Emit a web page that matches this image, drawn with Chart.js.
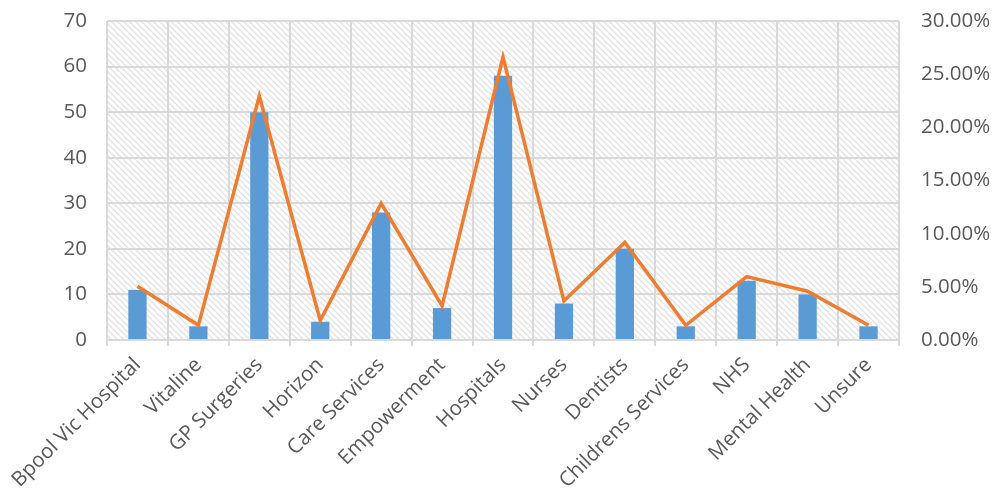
<!DOCTYPE html>
<html>
<head>
<meta charset="utf-8">
<script src="https://cdn.jsdelivr.net/npm/chart.js@4/dist/chart.umd.min.js"></script>
<style>
  html, body { margin: 0; padding: 0; background: #ffffff; }
  #wrap { width: 1003px; height: 491px; }
</style>
</head>
<body>
<div id="wrap"><canvas id="c" width="1003" height="491"></canvas></div>
<script>
// Service categories mentioned
const categories = [
  'Bpool Vic Hospital', 'Vitaline', 'GP Surgeries', 'Horizon', 'Care Services',
  'Empowerment', 'Hospitals', 'Nurses', 'Dentists', 'Childrens Services',
  'NHS', 'Mental Health', 'Unsure'
];
// Number of mentions (left axis)
const counts = [11, 3, 50, 4, 28, 7, 58, 8, 20, 3, 13, 10, 3];
// Share of all mentions, in percent (right axis)
const shares = [5.05, 1.38, 22.94, 1.83, 12.84, 3.21, 26.61, 3.67, 9.17, 1.38, 5.96, 4.59, 1.38];

const FONT = "'Open Sans', 'DejaVu Sans', sans-serif";
const TEXT = '#595959';
const GRID = '#d9d9d9';
const FSIZE = 20.5;

// Diagonal hatch tile for the plot background
function makeHatch(ctx) {
  const s = 6;
  const t = document.createElement('canvas');
  t.width = s; t.height = s;
  const g = t.getContext('2d');
  g.fillStyle = '#ffffff';
  g.fillRect(0, 0, s, s);
  g.strokeStyle = '#e3e3e3';
  g.lineWidth = 1.4;
  g.beginPath();
  g.moveTo(-1, -1); g.lineTo(s + 1, s + 1);
  g.moveTo(-1, s - 1); g.lineTo(1, s + 1);
  g.moveTo(s - 1, -1); g.lineTo(s + 1, 1);
  g.stroke();
  return ctx.createPattern(t, 'repeat');
}

const hatchBackground = {
  id: 'hatchBackground',
  beforeDraw(chart) {
    const { ctx, chartArea: a } = chart;
    ctx.save();
    ctx.fillStyle = makeHatch(ctx);
    ctx.fillRect(a.left, a.top, a.right - a.left, a.bottom - a.top);
    ctx.restore();
  }
};

// Fixed axis sizes, without the automatic edge padding for end labels
function fixSize(w, h) {
  return s => {
    if (w != null) s.width = w;
    if (h != null) s.height = h;
    s.paddingTop = 0; s.paddingBottom = 0;
    s.paddingLeft = 0; s.paddingRight = 0;
  };
}

new Chart(document.getElementById('c'), {
  data: {
    labels: categories,
    datasets: [
      {
        type: 'line',
        data: shares,
        yAxisID: 'yPct',
        borderColor: '#ED7D31',
        borderWidth: 3.5,
        pointRadius: 0,
        tension: 0,
        order: 0
      },
      {
        type: 'bar',
        data: counts,
        yAxisID: 'y',
        backgroundColor: '#5B9BD5',
        categoryPercentage: 1,
        barPercentage: 0.3,
        order: 1
      }
    ]
  },
  options: {
    responsive: false,
    animation: false,
    devicePixelRatio: 1,
    layout: { padding: { top: 21, left: 0, right: 0, bottom: 0 } },
    plugins: { legend: { display: false }, tooltip: { enabled: false } },
    scales: {
      x: {
        grid: { color: GRID, lineWidth: 2, tickLength: 6, offset: true },
        border: { display: false },
        ticks: {
          minRotation: 45, maxRotation: 45, autoSkip: false, padding: 7,
          color: TEXT, font: { family: FONT, size: FSIZE }
        },
        afterFit: fixSize(null, 151)
      },
      y: {
        position: 'left',
        min: 0, max: 70,
        grid: { color: GRID, lineWidth: 2, drawTicks: false },
        border: { display: false },
        ticks: { stepSize: 10, padding: 20, color: TEXT, font: { family: FONT, size: FSIZE } },
        afterFit: fixSize(107, null)
      },
      yPct: {
        position: 'right',
        min: 0, max: 30,
        grid: { drawOnChartArea: false, drawTicks: false },
        border: { display: false },
        ticks: {
          stepSize: 5, padding: 22, color: TEXT, font: { family: FONT, size: FSIZE },
          callback: v => v.toFixed(2) + '%'
        },
        afterFit: fixSize(104, null)
      }
    }
  },
  plugins: [hatchBackground]
});
</script>
</body>
</html>
